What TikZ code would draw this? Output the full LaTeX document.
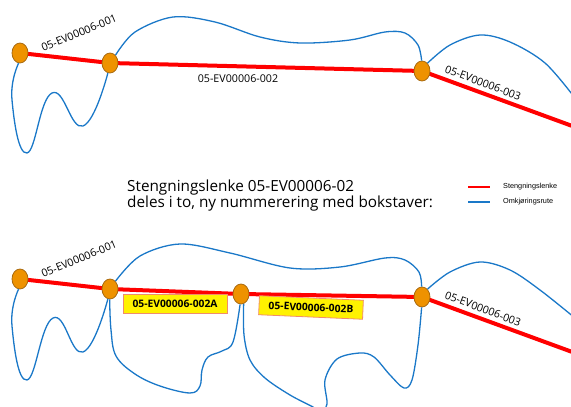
\documentclass[tikz,border=0pt]{standalone}
\usepackage{fontspec}
\setmainfont{Open Sans}
\newfontfamily\legendfont{Liberation Sans}
\usetikzlibrary{shapes.geometric,backgrounds}
\definecolor{juncfill}{HTML}{EE9200}
\definecolor{juncdraw}{HTML}{A86A10}
\definecolor{routeblue}{HTML}{1A78C8}
\definecolor{closered}{HTML}{FF0000}
\definecolor{boxborder}{HTML}{F08C6C}
\tikzset{
  junc/.style={ellipse, fill=juncfill, draw=juncdraw, line width=0.8pt, minimum width=16pt, minimum height=20pt, inner sep=0pt},
  redline/.style={draw=closered, line width=4pt},
  blueline/.style={draw=routeblue, line width=1.3pt},
  seglabel/.style={font=\fontsize{10.7}{12}\selectfont, inner sep=0pt},
  idbox/.style={font=\fontsize{10.3}{12}\selectfont\bfseries, fill=yellow, draw=boxborder, line width=0.8pt, minimum width=104pt, minimum height=19pt, inner sep=1pt},
  legtext/.style={font=\legendfont\fontsize{7.3}{8}\selectfont, anchor=west, inner sep=0pt}
}
\begin{document}
\begin{tikzpicture}[x=1pt,y=-1pt]
\useasboundingbox (0,0) rectangle (571,407);
\clip (0,0) rectangle (571,407);
% ---------- top ----------
\node[junc] (t1) at (20,53) {};
\node[junc] (t2) at (110,63) {};
\node[junc] (t3) at (422,71) {};
\coordinate (tend) at (575,127);
\begin{scope}[on background layer]
\draw[redline] (t1.center) -- (t2.center) -- (t3.center) -- (tend);
\end{scope}
\draw[blueline] plot[smooth, tension=0.8] coordinates {(t1.262) (12,100) (27,153) (52,93) (83,126) (t2.258)};
\draw[blueline] plot[smooth, tension=0.55] coordinates {(t2.55) (135,32) (173,17) (215,22) (260,37) (300,43) (350,40) (385,32) (405,33) (418,45) (t3.92)};
\draw[blueline] plot[smooth, tension=0.55] coordinates {(t3.55) (450,45) (480,35) (510,42) (545,63) (575,98)};
\node[seglabel, rotate=22.5] (l1) at (79,33) {05-EV00006-001};
\node[seglabel] (l2) at (238,79) {05-EV00006-002};
\node[seglabel, rotate=-21] (l3) at (483,83) {05-EV00006-003};
% ---------- middle ----------
\node[anchor=west, align=left, font=\fontsize{15.3}{15.5}\selectfont, inner sep=0pt] (title) at (127,195.5) {Stengningslenke 05-EV00006-02\\deles i to, ny nummerering med bokstaver:};
\coordinate (lr1) at (468,187); \coordinate (lr2) at (490,187);
\coordinate (lb1) at (468,202); \coordinate (lb2) at (490,202);
\draw[draw=closered, line width=2.5pt] (lr1) -- (lr2);
\draw[draw=routeblue, line width=1.3pt] (lb1) -- (lb2);
\node[legtext] (lg1) at (503,187) {Stengningslenke};
\node[legtext] (lg2) at (503,202) {Omkjøringsrute};
% ---------- bottom ----------
\node[junc] (b1) at (20,279) {};
\node[junc] (b2) at (110,289) {};
\node[junc] (b3) at (241,294) {};
\node[junc] (b4) at (422,297) {};
\coordinate (bend) at (575,353);
\begin{scope}[on background layer]
\draw[redline] (b1.center) -- (b2.center) -- (b3.center) -- (b4.center) -- (bend);
\end{scope}
\draw[blueline] plot[smooth, tension=0.8] coordinates {(b1.262) (12,326) (27,380) (53,318) (83,352) (b2.258)};
\draw[blueline] plot[smooth, tension=0.55] coordinates {(b2.55) (140,256) (180,244) (230,253) (290,268) (340,267) (385,258) (405,260) (419,272) (b4.92)};
\draw[blueline] plot[smooth, tension=0.55] coordinates {(b4.55) (450,272) (480,262) (510,270) (540,290) (575,318)};
\draw[blueline] plot[smooth, tension=0.6] coordinates {(b2.268) (111,330) (116,356) (135,374) (160,386) (190,393) (200,386) (202,370) (208,357) (222,351) (233,342) (b3.265)};
\draw[blueline] plot[smooth, tension=0.55] coordinates {(b3.285) (244,335) (250,360) (265,378) (290,395) (313,407) (320,412) (327,404) (325,380) (337,359) (360,353) (374,357) (390,375) (404,388) (412,380) (418,345) (b4.268)};
\node[seglabel, rotate=22.5] (l4) at (79,259) {05-EV00006-001};
\node[idbox] (bxA) at (175,303.5) {05-EV00006-002A};
\node[idbox, rotate=-2.5] (bxB) at (311,307.5) {05-EV00006-002B};
\node[seglabel, rotate=-21] (l6) at (483,309) {05-EV00006-003};
\end{tikzpicture}
\end{document}
